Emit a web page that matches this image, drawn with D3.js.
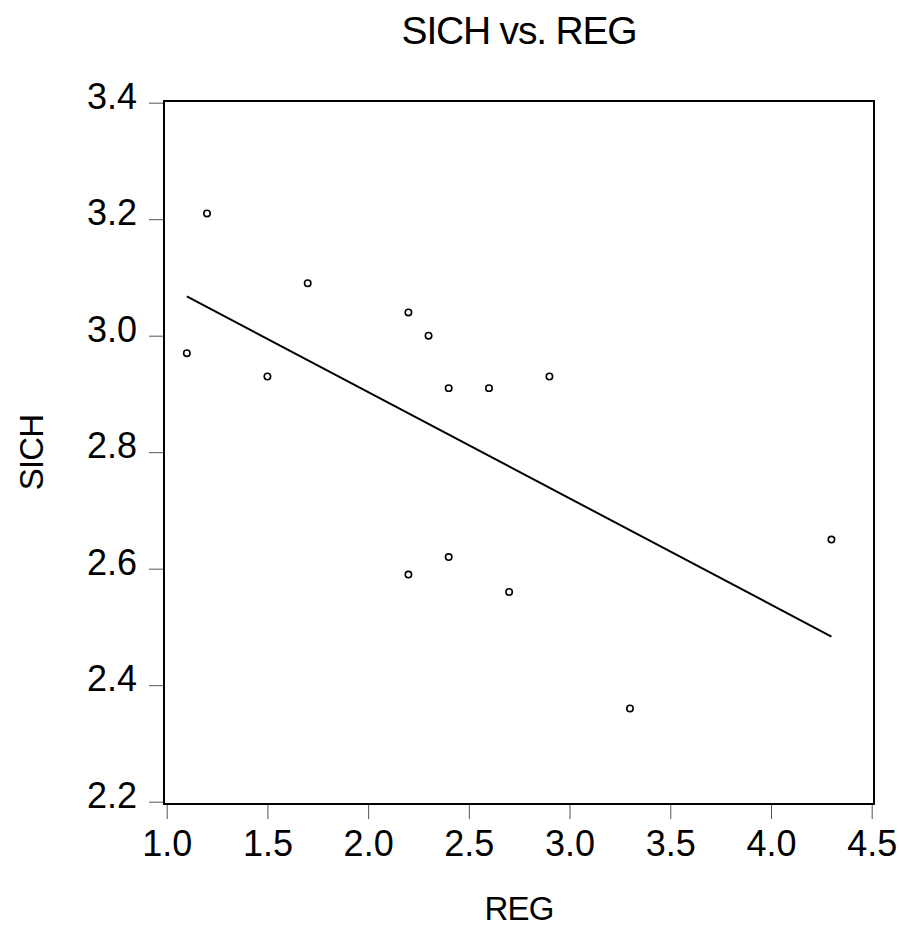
<!DOCTYPE html>
<html lang="en">
<head>
  <meta charset="utf-8">
  <title>SICH vs. REG</title>
  <style>
    * { margin: 0; padding: 0; }
    body { background: #fff; }
    svg { display: block; font-family: "Liberation Sans", Arial, sans-serif; }
  </style>
  <script src="https://cdn.jsdelivr.net/npm/d3@7"></script>
</head>
<body>
  <div id="chart"></div>
  <script>
    // data
    const regVals  = [1.1, 1.2, 1.5, 1.7, 2.2, 2.3, 2.4, 2.6, 2.9, 2.2, 2.4, 2.7, 3.3, 4.3];
    const sichVals = [2.97, 3.21, 2.93, 3.09, 3.04, 3.00, 2.91, 2.91, 2.93, 2.59, 2.62, 2.56, 2.36, 2.65];
    const xTicks = [1.0, 1.5, 2.0, 2.5, 3.0, 3.5, 4.0, 4.5];
    const yTicks = [2.2, 2.4, 2.6, 2.8, 3.0, 3.2, 3.4];

    const W = 899, H = 927;
    // plot frame
    const fx0 = 164, fx1 = 874, fy0 = 101, fy1 = 804;

    const svg = d3.select("#chart").append("svg")
                  .attr("width", W)
                  .attr("height", H);

    const x = d3.scaleLinear().domain([1.0, 4.5]).range([fx0 + 2.7, fx1 - 2.3]);
    const y = d3.scaleLinear().domain([2.2, 3.4]).range([fy1 - 2.3, fy0 + 1.7]);

    // title
    svg.append("text")
       .attr("x", (fx0 + fx1) / 2)
       .attr("y", 44)
       .attr("text-anchor", "middle")
       .style("font-size", "39px")
       .style("letter-spacing", "-1.2px")
       .text("SICH vs. REG");

    // y axis
    const yAxis = svg.append("g")
       .attr("transform", `translate(${fx0},0)`)
       .call(d3.axisLeft(y).tickValues(yTicks).tickFormat(d3.format(".1f"))
               .tickSize(15).tickSizeOuter(0).tickPadding(12));
    yAxis.select(".domain").remove();
    yAxis.selectAll(".tick line").attr("stroke", "#555").attr("stroke-width", 1);
    yAxis.selectAll(".tick text")
         .attr("dy", "0.15em")
         .attr("fill", "#000")
         .style("font-size", "36px")
         .style("font-family", "Liberation Sans, Arial, sans-serif");

    // x axis
    const xAxis = svg.append("g")
       .attr("transform", `translate(0,${fy1})`)
       .call(d3.axisBottom(x).tickValues(xTicks).tickFormat(d3.format(".1f"))
               .tickSize(15).tickSizeOuter(0).tickPadding(11));
    xAxis.select(".domain").remove();
    xAxis.selectAll(".tick line").attr("stroke", "#555").attr("stroke-width", 1);
    xAxis.selectAll(".tick text")
         .attr("dy", "0.71em")
         .attr("fill", "#000")
         .style("font-size", "36px")
         .style("font-family", "Liberation Sans, Arial, sans-serif");

    // axis labels
    svg.append("text")
       .attr("x", (fx0 + fx1) / 2)
       .attr("y", 920)
       .attr("text-anchor", "middle")
       .style("font-size", "33px")
       .style("letter-spacing", "-0.8px")
       .text("REG");

    svg.append("text")
       .attr("transform", `translate(43,${(fy0 + fy1) / 2}) rotate(-90)`)
       .attr("text-anchor", "middle")
       .style("font-size", "33px")
       .style("letter-spacing", "-0.8px")
       .text("SICH");

    // least squares fit
    const pts = regVals.map((v, i) => ({reg: v, sich: sichVals[i]}));
    const mx = d3.mean(regVals), my = d3.mean(sichVals);
    const sxy = d3.sum(pts, d => (d.reg - mx) * (d.sich - my));
    const sxx = d3.sum(pts, d => (d.reg - mx) * (d.reg - mx));
    const slope = sxy / sxx, icpt = my - slope * mx;
    const xr = d3.extent(regVals);

    svg.append("line")
       .attr("x1", x(xr[0])).attr("y1", y(icpt + slope * xr[0]))
       .attr("x2", x(xr[1])).attr("y2", y(icpt + slope * xr[1]))
       .attr("stroke", "#000")
       .attr("stroke-width", 2);

    // points
    svg.append("g").selectAll("circle")
       .data(pts)
       .enter()
       .append("circle")
       .attr("cx", d => x(d.reg))
       .attr("cy", d => y(d.sich))
       .attr("r", 3.2)
       .attr("fill", "#fff")
       .attr("stroke", "#000")
       .attr("stroke-width", 1.6);

    // frame
    svg.append("rect")
       .attr("x", fx0).attr("y", fy0)
       .attr("width", fx1 - fx0).attr("height", fy1 - fy0)
       .attr("fill", "none")
       .attr("stroke", "#000")
       .attr("stroke-width", 2);
  </script>
</body>
</html>
